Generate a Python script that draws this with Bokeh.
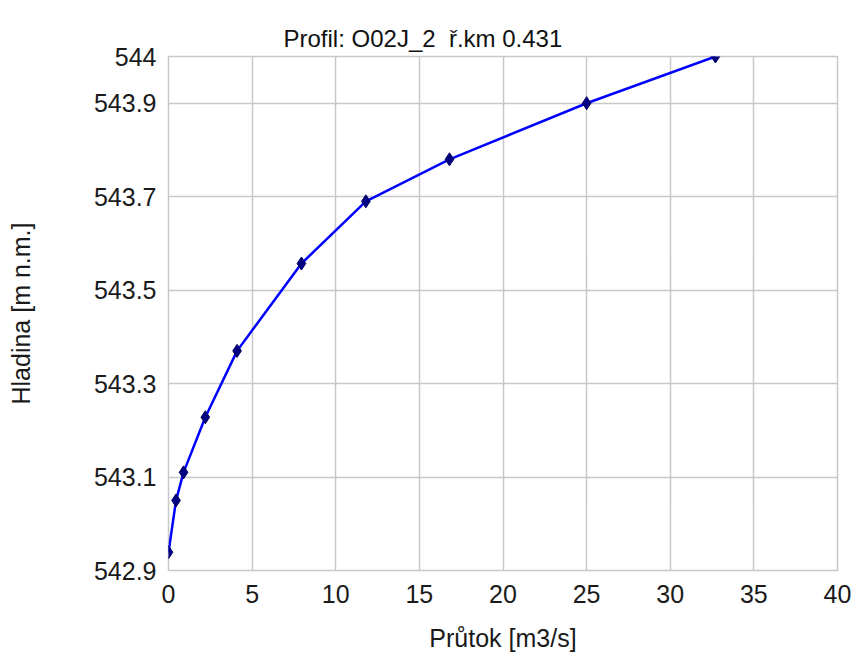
from bokeh.plotting import figure
from bokeh.models import Range1d, FixedTicker, Title
from bokeh.embed import file_html
from bokeh.resources import INLINE

# Data
discharge = [0.0, 0.45, 0.9, 2.2, 4.1, 7.95, 11.8, 16.8, 25.0, 32.7]
water_level = [542.939, 543.05, 543.11, 543.228, 543.37, 543.557, 543.69, 543.78, 543.90, 544.0]

x_ticks = [0, 5, 10, 15, 20, 25, 30, 35, 40]
y_ticks = [542.9, 543.1, 543.3, 543.5, 543.7, 543.9, 544.0]
y_tick_labels = ["542.9", "543.1", "543.3", "543.5", "543.7", "543.9", "544"]

title_text = "Profil: O02J_2\u00a0 ř.km 0.431"
x_label = "Průtok [m3/s]"
y_label = "Hladina [m n.m.]"

FONT = "Liberation Sans"

p = figure(width=864, height=659, output_backend="svg", toolbar_location=None,
           x_range=Range1d(0, 40), y_range=Range1d(542.9, 544.0),
           min_border_left=168, min_border_right=27, min_border_top=56, min_border_bottom=89)

# small blank spacer title next to the frame pushes the real title upward
p.title.text = " "
p.title.text_font_size = "6px"
p.title.standoff = 0

main_title = Title(text=title_text, align="left", offset=115, text_font=FONT,
                   text_font_size="24px", text_font_style="normal", text_color="#111111")
p.add_layout(main_title, "above")

p.line(discharge, water_level, line_color="#0000ff", line_width=2.5)
p.scatter(discharge, water_level, marker="diamond", size=13, fill_color="#000080",
          line_color="#000060", line_width=1)

for ax in (p.xaxis[0], p.yaxis[0]):
    ax.axis_line_color = None
    ax.major_tick_line_color = None
    ax.minor_tick_line_color = None
    ax.major_tick_in = 0
    ax.major_tick_out = 0
    ax.minor_tick_in = 0
    ax.minor_tick_out = 0
    ax.major_label_text_font = FONT
    ax.major_label_text_font_size = "25px"
    ax.major_label_text_color = "#1a1a1a"
    ax.axis_label_text_font = FONT
    ax.axis_label_text_font_size = "25px"
    ax.axis_label_text_font_style = "normal"
    ax.axis_label_text_color = "#1a1a1a"

p.xaxis[0].ticker = FixedTicker(ticks=x_ticks)
p.yaxis[0].ticker = FixedTicker(ticks=y_ticks)
p.yaxis[0].major_label_overrides = {t: l for t, l in zip(y_ticks, y_tick_labels)}
p.xaxis[0].axis_label = x_label
p.yaxis[0].axis_label = y_label
p.xaxis[0].major_label_standoff = 14
p.xaxis[0].axis_label_standoff = 18
p.yaxis[0].major_label_standoff = 12
p.yaxis[0].axis_label_standoff = 56

p.xgrid.grid_line_color = "#c8c8c8"
p.ygrid.grid_line_color = "#c8c8c8"
p.xgrid.grid_line_width = 1.5
p.ygrid.grid_line_width = 1.5
p.outline_line_color = "#c8c8c8"
p.outline_line_width = 1.5
p.background_fill_color = "white"
p.border_fill_color = "white"

open("out.html", "w").write(file_html(p, INLINE))
